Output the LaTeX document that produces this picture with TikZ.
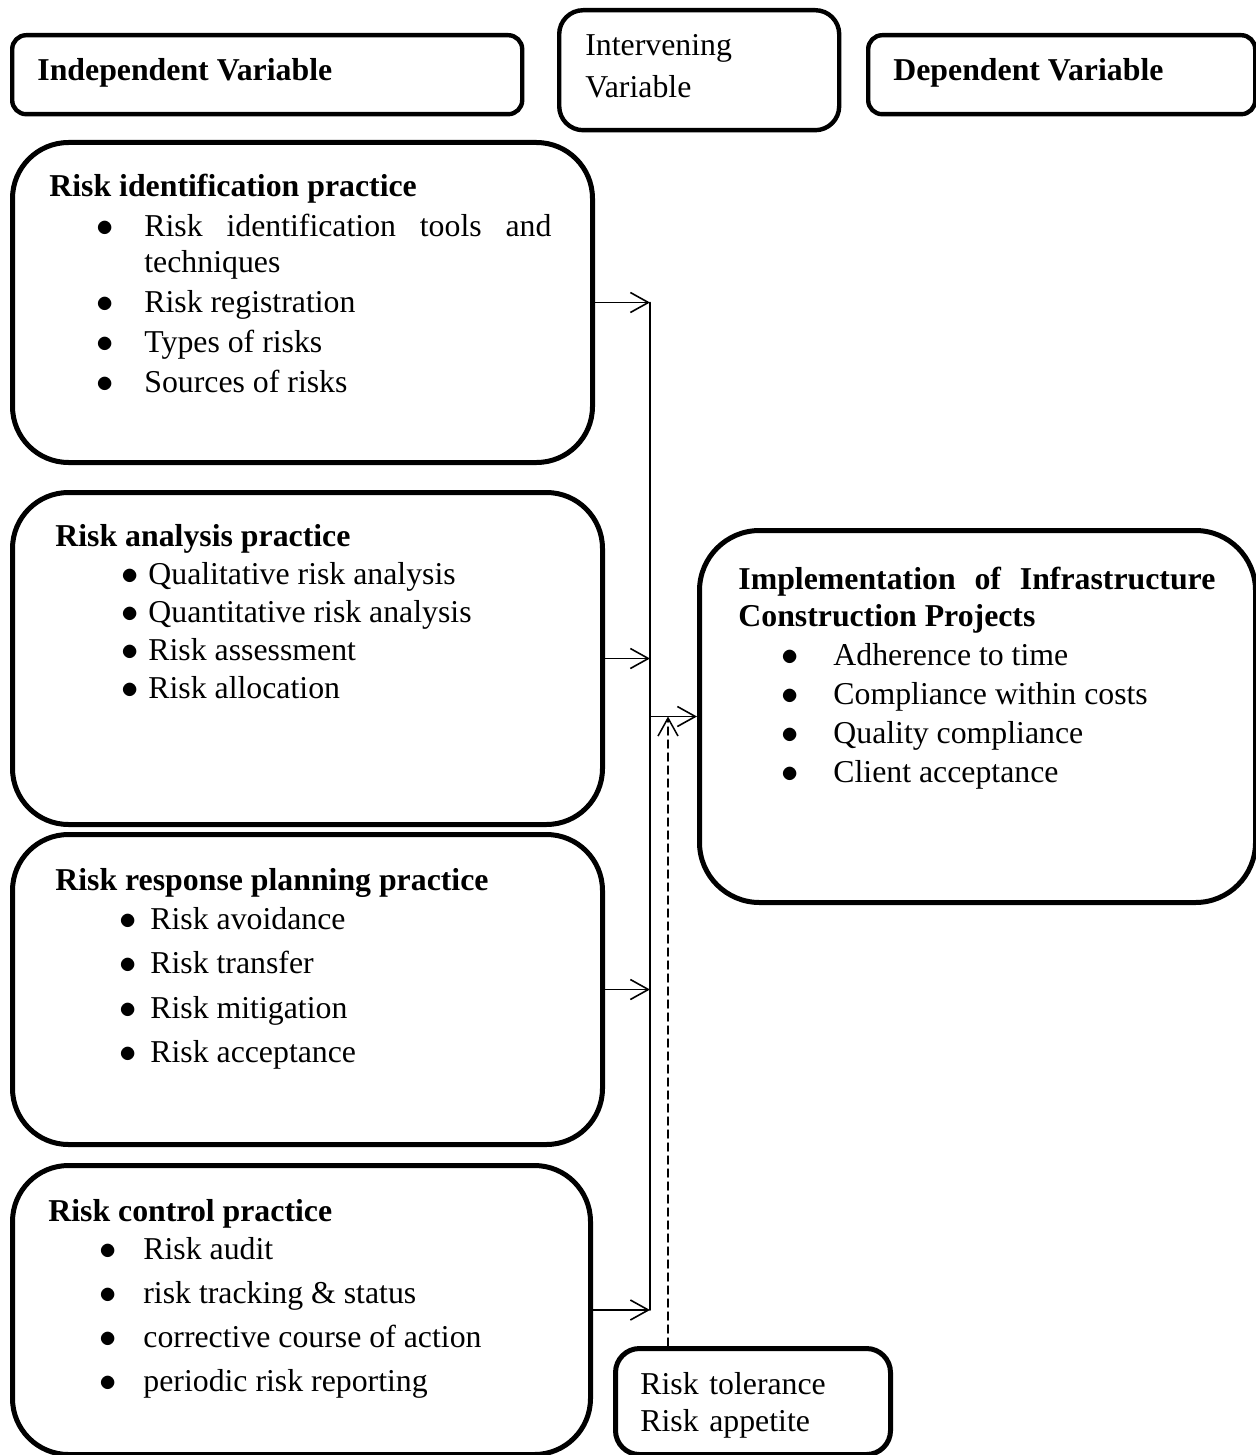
\documentclass[tikz,border=0pt]{standalone}
\usepackage{fontspec}
\setmainfont{Liberation Serif}
\usepackage{enumitem}
\usetikzlibrary{arrows.meta}
\setlist[itemize]{label=$\bullet$,leftmargin=47.5pt,topsep=0pt,partopsep=0pt,parsep=0pt,itemsep=0pt}
\tolerance=10000
\hyphenpenalty=10000

\begin{document}
\begin{tikzpicture}[
	x=0.5pt,y=-0.5pt,line join=round,line cap=round,
	>={Straight Barb[length=9pt,width=10pt]},
	varbox/.style={rectangle,draw,line width=2.2pt,rounded corners=7pt,anchor=north west,inner sep=0pt},
	bigbox/.style={varbox,line width=2.5pt,rounded corners=28pt},
	boxtext/.style={anchor=base west,inner sep=0pt,font=\fontsize{15.9}{19}\selectfont},
	listtext/.style={boxtext,align=justify},
	link/.style={line width=0.8pt}]
	\useasboundingbox (0,0) rectangle (1256,1455);
	% variable headers
	\node at (10,33) (hdrI) [varbox,minimum width=255pt,minimum height=39.5pt] {};
	\node at (557,8) (hdrM) [varbox,rounded corners=12pt,minimum width=140pt,minimum height=60pt] {};
	\node at (866,33) (hdrD) [varbox,minimum width=193.5pt,minimum height=39.5pt] {};
	\node at (37,81) (hdrItxt) [boxtext] {\textbf{Independent Variable}};
	\node at (585,56) (hdrMtxt) [boxtext,text width=120pt,font=\fontsize{15.9}{21}\selectfont] {Intervening\\Variable};
	\node at (893,81) (hdrDtxt) [boxtext] {\textbf{Dependent Variable}};
	% practice boxes
	\node at (10,140) (idbox) [bigbox,minimum width=290pt,minimum height=160pt] {};
	\node at (10,490) (anbox) [bigbox,minimum width=295pt,minimum height=166pt] {};
	\node at (10,832) (rpbox) [bigbox,minimum width=295pt,minimum height=155pt] {};
	\node at (10,1163) (ctbox) [bigbox,minimum width=289pt,minimum height=144.5pt] {};
	\node at (697,528) (impbox) [bigbox,rounded corners=30pt,minimum width=278pt,minimum height=186pt] {};
	\node at (613,1346) (tolbox) [varbox,rounded corners=12pt,line width=2.5pt,minimum width=137.5pt,minimum height=53pt] {};
	\node at (49,197) (idtxt) [listtext,text width=251pt,font=\fontsize{15.9}{18}\selectfont] {\textbf{Risk identification practice}
		\begin{itemize}[labelsep=15.5pt,itemsep=2pt,topsep=2pt]
			\item Risk identification tools and techniques
			\item Risk registration
			\item Types of risks
			\item Sources of risks
		\end{itemize}};
	\node at (55,546) (antxt) [listtext,text width=260pt] {\textbf{Risk analysis practice}
		\begin{itemize}[leftmargin=46.5pt,labelsep=5pt]
			\item Qualitative risk analysis
			\item Quantitative risk analysis
			\item Risk assessment
			\item Risk allocation
		\end{itemize}};
	\node at (55,890) (rptxt) [listtext,text width=260pt,font=\fontsize{15.9}{19.5}\selectfont] {\textbf{Risk response planning practice}
		\begin{itemize}[labelsep=7pt,itemsep=2.75pt]
			\item Risk avoidance
			\item Risk transfer
			\item Risk mitigation
			\item Risk acceptance
		\end{itemize}};
	\node at (48,1221) (cttxt) [listtext,text width=255pt] {\textbf{Risk control practice}
		\begin{itemize}[labelsep=13.5pt,itemsep=3pt]
			\item Risk audit
			\item risk tracking \& status
			\item corrective course of action
			\item periodic risk reporting
		\end{itemize}};
	\node at (738,589) (imptxt) [listtext,text width=238.5pt,font=\fontsize{15.9}{18.5}\selectfont] {\textbf{Implementation of Infrastructure Construction Projects}
		\begin{itemize}[labelsep=17.5pt,itemsep=1pt,topsep=1pt]
			\item Adherence to time
			\item Compliance within costs
			\item Quality compliance
			\item Client acceptance
		\end{itemize}};
	\node at (640,1394) (toltxt) [boxtext,text width=120pt,font=\fontsize{15.9}{18.5}\selectfont] {Risk tolerance\\Risk appetite};
	% connectors
	\coordinate (bus) at (650,0);
	\coordinate (tolin) at ([xshift=27.5pt]tolbox.north west);
	\draw[link] (idbox.east -| bus) -- (ctbox.east -| bus);
	\foreach \b in {idbox,anbox,rpbox,ctbox}
		\draw[link,->] (\b.east) -- (\b.east -| bus);
	\draw[link,->] (impbox.west -| bus) -- (impbox.west);
	\draw[link,line width=0.75pt,dash pattern=on 4pt off 2.5pt,->] (tolin) -- (tolin |- impbox.west);
\end{tikzpicture}
\end{document}
